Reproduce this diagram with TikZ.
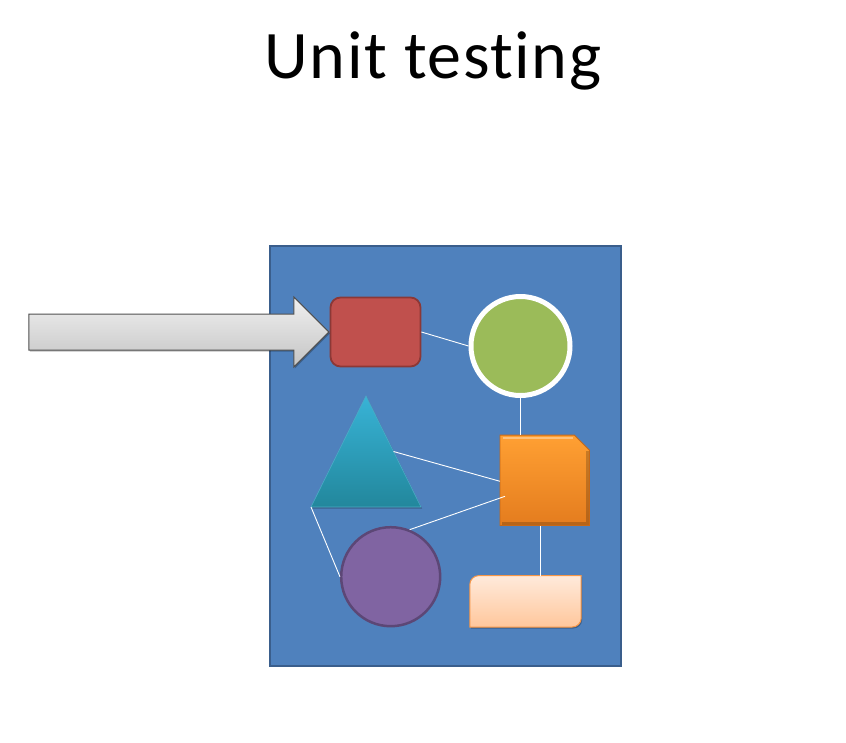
\documentclass[tikz,border=0pt]{standalone}
\usepackage{fontspec}
\setmainfont{Carlito}[Ligatures=NoCommon]
\newfontfamily\titlefont{Carlito}[Ligatures=NoCommon,LetterSpace=2.3]
\usetikzlibrary{shapes.arrows,shadows,calc}
\definecolor{framefill}{HTML}{4F81BD}
\definecolor{frameline}{HTML}{3A5E8C}
\definecolor{redfill}{HTML}{C0504D}
\definecolor{redline}{HTML}{8C3836}
\definecolor{greenfill}{HTML}{9BBB59}
\definecolor{purplefill}{HTML}{8064A2}
\definecolor{purpleline}{HTML}{5C4776}
\definecolor{tritop}{HTML}{38B3D6}
\definecolor{tribot}{HTML}{22879C}
\definecolor{tritline}{HTML}{4BACC6}
\definecolor{orgtop}{HTML}{FFA033}
\definecolor{orgbot}{HTML}{E47C1E}
\definecolor{orgline}{HTML}{C76816}
\definecolor{peachtop}{HTML}{FFEADB}
\definecolor{peachbot}{HTML}{FFC79C}
\definecolor{peachline}{HTML}{F79646}
\definecolor{arrtop}{HTML}{F0F0F0}
\definecolor{arrbot}{HTML}{C4C4C4}
\definecolor{arrline}{HTML}{505050}
\begin{document}
\begin{tikzpicture}[x=1pt,y=-1pt,
  conn/.style={draw=white,line width=0.9pt},
  softshadow/.style={drop shadow={shadow xshift=1pt,shadow yshift=-1.5pt,opacity=0.25,fill=black}},
  framebox/.style={rectangle,draw=frameline,fill=framefill,line width=1.8pt,minimum width=351pt,minimum height=420pt,inner sep=0pt},
  redbox/.style={rectangle,rounded corners=10pt,draw=redline,fill=redfill,line width=1.8pt,minimum width=90pt,minimum height=69pt,inner sep=0pt},
  greenball/.style={circle,draw=white,fill=greenfill,line width=5pt,minimum size=99pt,inner sep=0pt,softshadow},
  purpleball/.style={circle,draw=purpleline,fill=purplefill,line width=2.5pt,minimum size=99pt,inner sep=0pt},
  anchorbox/.style={rectangle,inner sep=0pt},
  inputarrow/.style={single arrow,minimum height=300pt,minimum width=69pt,inner xsep=0pt,inner ysep=17.5pt,text height=0pt,text depth=0pt,single arrow head extend=17pt,top color=arrtop,bottom color=arrbot,draw=arrline,line width=1pt,softshadow}
]
\useasboundingbox[fill=white] (0,0) rectangle (846,742);
\node[font=\titlefont\fontsize{68}{80}\selectfont,anchor=base,inner sep=0pt] (title) at (433,78) {Unit testing};

\node[framebox] (frame) at (445.5,456) {};

% shapes
\node[redbox] (red) at (375.5,332) {};
\node[greenball] (green) at (520.5,346) {};
\node[purpleball] (purple) at (390.7,576.7) {};
\node[anchorbox,minimum width=89pt,minimum height=90pt] (orange) at (544.7,480.3) {};
\node[anchorbox,minimum width=111pt,minimum height=51pt] (peach) at (525.5,601.3) {};

\coordinate (tTop) at (366,396);
\coordinate (tLeft) at (311,507);
\coordinate (tRight) at (421,507);

% triangle
\path[top color=tritop,bottom color=tribot,draw=tritline,line width=0.6pt,softshadow] (tTop) -- (tRight) -- (tLeft) -- cycle;

% orange square with cut corner
\path[top color=orgtop,bottom color=orgbot,draw=orgline,line width=0.8pt]
  (orange.south west) -- (orange.north west) -- ([xshift=-15pt]orange.north east)
  -- ([yshift=-15pt]orange.north east) -- (orange.south east) -- cycle;
\draw[white,opacity=0.35,line width=2pt] ([xshift=3pt,yshift=-2.5pt]orange.north west) -- ([xshift=-16pt,yshift=-2.5pt]orange.north east);
\draw[black,opacity=0.2,line width=2.5pt] ([xshift=2pt,yshift=2pt]orange.south west) -- ([xshift=-2pt,yshift=2pt]orange.south east) -- ([xshift=-2pt,yshift=-16pt]orange.north east);

% peach round-diagonal rectangle
\path[top color=peachtop,bottom color=peachbot,draw=peachline,line width=1pt,softshadow]
  (peach.south west) -- ([yshift=-9pt]peach.north west) to[out=90,in=180] ([xshift=9pt]peach.north west)
  -- (peach.north east) -- ([yshift=9pt]peach.south east) to[out=-90,in=0] ([xshift=-9pt]peach.south east) -- cycle;

% connectors
\draw[conn] (red.east) -- (green.west);
\draw[conn] (green.south) -- (green.south |- orange.north);
\draw[conn] ($(tTop)!0.5!(tRight)$) -- ([yshift=-1pt]orange.west);
\draw[conn] (purple.68) -- ([xshift=5pt,yshift=-16pt]orange.west);
\draw[conn] (tLeft) -- (purple.west);
\draw[conn] ([xshift=-4pt]orange.south) -- ([xshift=-4pt]orange.south |- peach.north);

% input arrow
\node[inputarrow,anchor=tip] (arrow) at (red.west) {};
\end{tikzpicture}
\end{document}
